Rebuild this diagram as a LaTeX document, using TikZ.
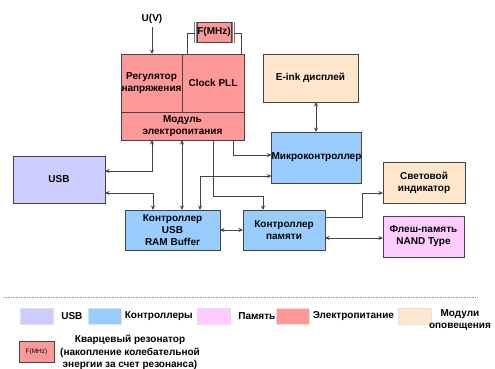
\documentclass[tikz,border=0pt]{standalone}
\usepackage{fontspec}
\setmainfont{Liberation Sans}
\usepackage{xcolor}
\usepackage{tikz}
\usetikzlibrary{arrows.meta}
\usetikzlibrary{positioning}

\definecolor{usbcol}{HTML}{CCCCFF}
\definecolor{ctrlcol}{HTML}{99CCFF}
\definecolor{memcol}{HTML}{FFCCFF}
\definecolor{pwrcol}{HTML}{FF9999}
\definecolor{notecol}{HTML}{FFE6CC}
\definecolor{edgecol}{HTML}{444444}

\begin{document}
\begin{tikzpicture}[x=1pt, y=-1pt,
    font=\fontsize{10}{12}\selectfont\bfseries,
    >={Stealth[length=4.5pt,width=4pt]},
    block/.style={draw=edgecol, line width=0.9pt, align=center,
      inner sep=0pt, outer sep=0pt},
    link/.style={draw=edgecol, line width=0.7pt},
    swatch/.style={draw=black!12, line width=0.6pt, minimum width=33pt,
      minimum height=16pt, inner sep=0pt}]
  \useasboundingbox (0,0) rectangle (495,369);

  % power supply module
  \node[block, fill=pwrcol, minimum width=61pt, minimum height=58pt]
    (reg) at (151.5,83) {Регулятор\\напряжения};
  \node[block, fill=pwrcol, minimum width=62pt, minimum height=58pt]
    (pll) at (213,83) {Clock PLL};
  \node[block, fill=pwrcol, minimum width=123pt, minimum height=28pt]
    (pwr) at (182.5,126) {Модуль\\электропитания};
  \node[block, fill=pwrcol, line width=0.7pt, minimum width=34pt, minimum height=20pt]
    (xtal) at (214,32) {F(MHz)};
  \node (uin) at (152,19) {U(V)};

  % crystal plates
  \draw[edgecol!70, line width=0.7pt] (194.5,22) -- (194.5,43) (196.5,22) -- (196.5,43);
  \draw[edgecol!70, line width=0.7pt] (232,22) -- (232,43) (234,22) -- (234,43);

  % other blocks
  \node[block, fill=notecol, minimum width=95pt, minimum height=48pt]
    (eink) at (310.5,78) {E-ink дисплей};
  \node[block, fill=ctrlcol, minimum width=89pt, minimum height=51pt]
    (mcu) at (316.5,157.5) {Микроконтроллер};
  \node[block, fill=usbcol, minimum width=92pt, minimum height=47pt]
    (usb) at (59,179.5) {USB};
  \node[block, fill=ctrlcol, minimum width=95pt, minimum height=40pt]
    (ctrlusb) at (172.5,230) {Контроллер\\USB\\RAM Buffer};
  \node[block, fill=ctrlcol, minimum width=82pt, minimum height=40pt]
    (memctrl) at (284,230) {Контроллер\\памяти};
  \node[block, fill=notecol, minimum width=82pt, minimum height=41pt]
    (led) at (424,182.5) {Световой\\индикатор};
  \node[block, fill=memcol, minimum width=81pt, minimum height=41pt]
    (flash) at (423.5,236.5) {Флеш-память\\NAND Type};

  % connections
  \draw[link, ->] (uin) -- (uin |- reg.north);
  \draw[link] (194.5,33) -| (187,0 |- pll.north);
  \draw[link] (234,33) -| (241,0 |- pll.north);
  \draw[link, <->] (usb.east |- 0,171) -| (152,0 |- pwr.south);
  \draw[link, <->] (usb.east |- 0,193) -| (153,0 |- ctrlusb.north);
  \draw[link, <->] (182,0 |- pwr.south) -- (182,0 |- ctrlusb.north);
  \draw[link, <->] (mcu.west |- 0,176) -| (200,0 |- ctrlusb.north);
  \draw[link, ->] (233,0 |- pwr.south) |- (mcu.west |- 0,155);
  \draw[link, ->] (213,0 |- pwr.south) |- (263,196) -- (263,0 |- memctrl.north);
  \draw[link, <->] (ctrlusb) -- (memctrl);
  \draw[link, <->] (316,0 |- eink.south) -- (316,0 |- mcu.north);
  \draw[link, ->] (memctrl.east |- 0,217) -- (362,217) |- (led.west |- 0,193);
  \draw[link, <->] (memctrl.east |- 0,238) -- (flash.west |- 0,238);

  % legend
  \draw[black!40, densely dotted, line width=0.6pt] (3,297) -- (477,297);
  \node[swatch, fill=usbcol] (lgusb) at (37,316) {};
  \node[right=4pt of lgusb] (lgusbtxt) {USB};
  \node[swatch, fill=ctrlcol] (lgctrl) at (104.5,316) {};
  \node[right=0pt of lgctrl] (lgctrltxt) {Контроллеры};
  \node[swatch, fill=memcol] (lgmem) at (214,316) {};
  \node[right=4pt of lgmem] (lgmemtxt) {Память};
  \node[swatch, fill=pwrcol] (lgpwr) at (292.5,316) {};
  \node[right=0pt of lgpwr] (lgpwrtxt) {Электропитание};
  \node[swatch, fill=notecol] (lgnote) at (414.5,316) {};
  \node[align=center] (lgnotetxt) at (460,320) {Модули\\оповещения};
  \node[block, fill=pwrcol, line width=0.7pt, minimum width=35pt, minimum height=21pt,
    font=\fontsize{6.5}{8}\selectfont] (lgxtal) at (36.5,351.5) {F(MHz)};
  \node[align=center, font=\fontsize{10}{12.5}\selectfont\bfseries]
    (lgxtaltxt) at (130,352.5) {Кварцевый резонатор\\(накопление колебательной\\энергии за счет резонанса)};
\end{tikzpicture}
\end{document}
